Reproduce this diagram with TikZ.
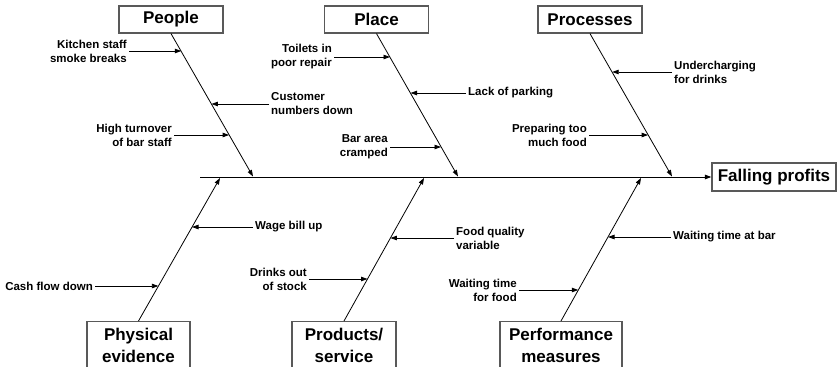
\documentclass[tikz,border=0pt]{standalone}
\usepackage{fontspec}
\setmainfont{Liberation Sans}
\usetikzlibrary{arrows.meta}

\begin{document}
\begin{tikzpicture}[x=1pt,y=-1pt,
		box/.style={draw=black!65, line width=1.2pt, fill=white, inner sep=0pt,
			minimum width=104pt, minimum height=27pt, align=center,
			font=\bfseries\fontsize{17}{22}\selectfont},
		cause/.style={inner sep=2pt, font=\bfseries\fontsize{11.5}{14}\selectfont},
		arr/.style={-{Triangle[length=6.5pt,width=4.5pt]}, line width=0.8pt}]
		\clip (0,0) rectangle (839,367) ;

		\node[box] (people) at (171,19.5) {People} ;
		\node[box] (place) at (376.5,19.5) {Place} ;
		\node[box] (processes) at (590,19.5) {Processes} ;
		\node[box, minimum width=124pt, minimum height=28pt] (profits) at (774,177) {Falling profits} ;
		\node[box, anchor=north, minimum width=103pt, minimum height=47pt] (physical) at (138.5,321) {Physical\\evidence} ;
		\node[box, anchor=north, minimum height=47pt] (products) at (344,321) {Products/\\service} ;
		\node[box, anchor=north, minimum width=122pt, minimum height=47pt] (performance) at (561,321) {Performance\\measures} ;

		\coordinate (tail) at (200,177) ;
		\coordinate (s1) at (253,176.5) ;
		\coordinate (s2) at (458,176.5) ;
		\coordinate (s3) at (672,176.5) ;
		\coordinate (s4) at (220,178) ;
		\coordinate (s5) at (424,178) ;
		\coordinate (s6) at (641,178) ;

		\draw[arr, line width=1pt] (tail) -- (profits.west) ;
		\draw[arr] (people.south) -- (s1) ;
		\draw[arr] (place.south) -- (s2) ;
		\draw[arr] (processes.south) -- (s3) ;
		\draw[arr] (physical.north) -- (s4) ;
		\draw[arr] (products.north) -- (s5) ;
		\draw[arr] (performance.north) -- (s6) ;

		\node[cause, anchor=east, align=right] (kitchen) at (129,51) {Kitchen staff\\smoke breaks} ;
		\node[cause, anchor=west, align=left] (customer) at (269,104) {Customer\\numbers down} ;
		\node[cause, anchor=east, align=right] (turnover) at (174,135) {High turnover\\of bar staff} ;
		\coordinate (b1) at (181.3,51) ;
		\coordinate (b2) at (211.4,104) ;
		\coordinate (b3) at (229.1,135) ;
		\draw[arr] (kitchen.east) -- (b1) ;
		\draw[arr] (customer.west) -- (b2) ;
		\draw[arr] (turnover.east) -- (b3) ;

		\node[cause, anchor=east, align=right] (toilets) at (334,57) {Toilets in\\poor repair} ;
		\node[cause, anchor=west] (parking) at (466,93) {Lack of parking} ;
		\node[cause, anchor=east, align=right] (bar) at (390,147) {Bar area\\cramped} ;
		\coordinate (b4) at (390,57) ;
		\coordinate (b5) at (410.5,93) ;
		\coordinate (b6) at (441,147) ;
		\draw[arr] (toilets.east) -- (b4) ;
		\draw[arr] (parking.west) -- (b5) ;
		\draw[arr] (bar.east) -- (b6) ;

		\node[cause, anchor=west, align=left] (drinks) at (672,72) {Undercharging\\for drinks} ;
		\node[cause, anchor=east, align=right] (food) at (589,135) {Preparing too\\much food} ;
		\coordinate (b7) at (612.2,72) ;
		\coordinate (b8) at (648.1,135) ;
		\draw[arr] (drinks.west) -- (b7) ;
		\draw[arr] (food.east) -- (b8) ;

		\node[cause, anchor=west] (wage) at (253,227) {Wage bill up} ;
		\node[cause, anchor=east] (cash) at (95,286) {Cash flow down} ;
		\coordinate (b9) at (192,227) ;
		\coordinate (b10) at (158.4,286) ;
		\draw[arr] (wage.west) -- (b9) ;
		\draw[arr] (cash.east) -- (b10) ;

		\node[cause, anchor=west, align=left] (quality) at (454,238) {Food quality\\variable} ;
		\node[cause, anchor=east, align=right] (stock) at (309,279) {Drinks out\\of stock} ;
		\coordinate (b11) at (390.4,238) ;
		\coordinate (b12) at (367.5,279) ;
		\draw[arr] (quality.west) -- (b11) ;
		\draw[arr] (stock.east) -- (b12) ;

		\node[cause, anchor=west] (waitbar) at (671,237) {Waiting time at bar} ;
		\node[cause, anchor=east, align=right] (waitfood) at (519,290) {Waiting time\\for food} ;
		\coordinate (b13) at (608,237) ;
		\coordinate (b14) at (578.3,290) ;
		\draw[arr] (waitbar.west) -- (b13) ;
		\draw[arr] (waitfood.east) -- (b14) ;
	\end{tikzpicture}
\end{document}
